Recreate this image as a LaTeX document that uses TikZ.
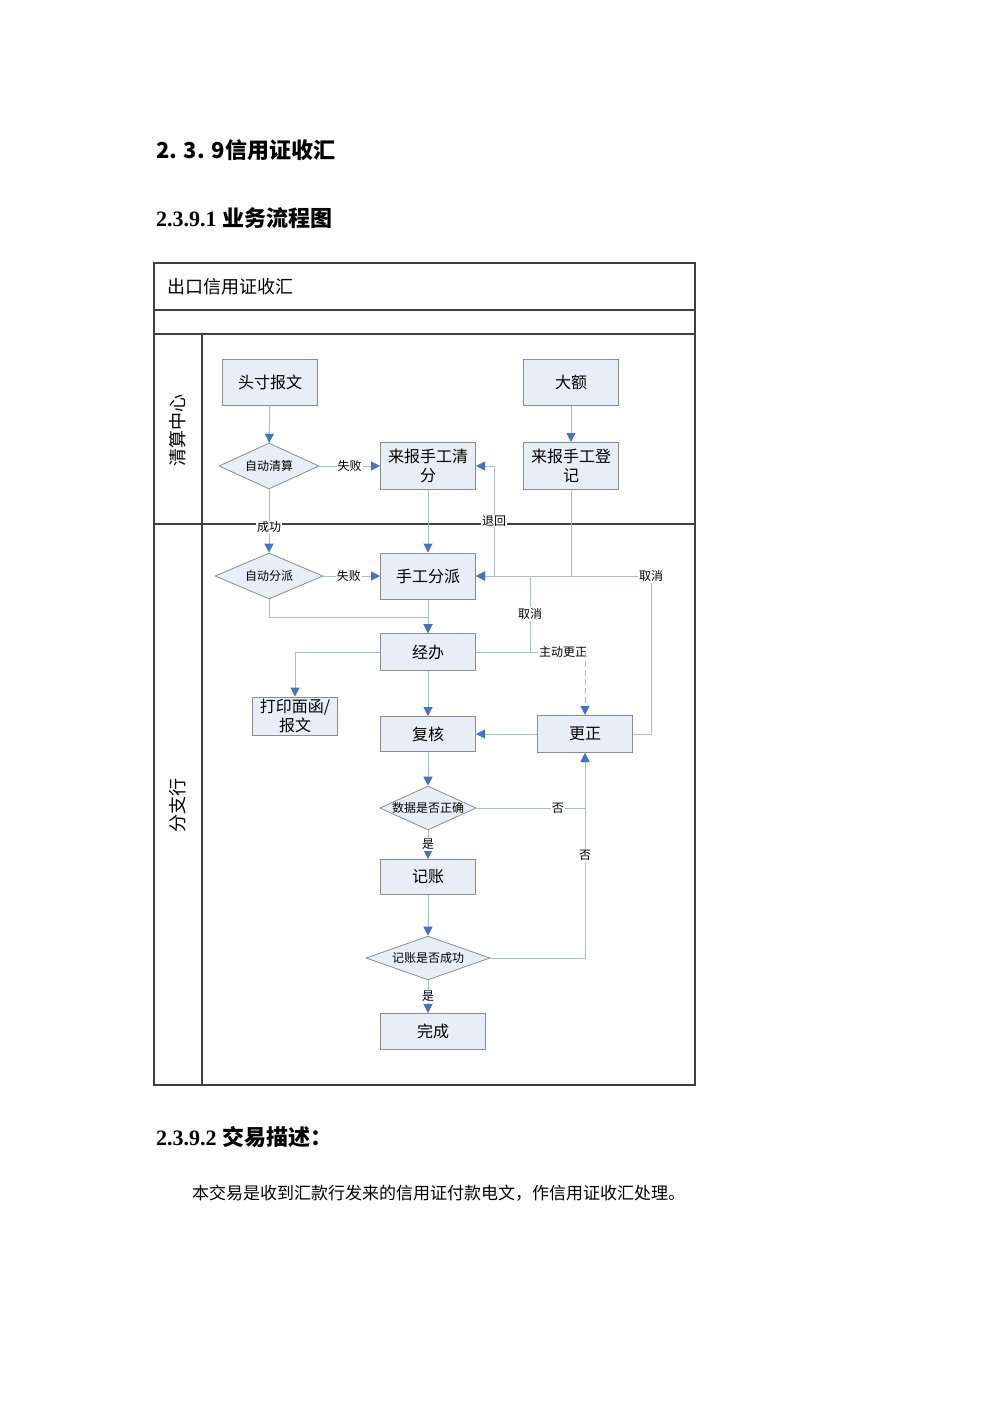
\documentclass[tikz,border=0pt]{standalone}
\usepackage{fontspec}
\setmainfont{Liberation Serif}
\newfontfamily\cjk{Noto Sans CJK SC}
\usetikzlibrary{shapes.geometric,arrows.meta}
\definecolor{boxfill}{HTML}{E8EEF8}
\definecolor{boxdraw}{HTML}{8C8C8C}
\definecolor{ln}{HTML}{A8BCDA}
\definecolor{tip}{HTML}{4472C4}
\begin{document}
\begin{tikzpicture}[x=0.5pt,y=-0.5pt,
 box/.style={draw=boxdraw,fill=boxfill,line width=0.5pt,rectangle,inner sep=1pt,align=center,font=\cjk\fontsize{8}{9.5}\selectfont},
 dia/.style={draw=boxdraw,fill=boxfill,line width=0.4pt,diamond,aspect=2.2,inner sep=0pt,font=\cjk\fontsize{6}{7}\selectfont},
 con/.style={draw=ln,line width=0.5pt},
 arr/.style={con,-{Triangle[length=4.5pt,width=4.5pt,color=tip]}},
 lab/.style={fill=white,inner sep=0.6pt,font=\cjk\fontsize{6}{7}\selectfont},
 lane/.style={draw=black!75,line width=0.8pt}]
\useasboundingbox (0,0) rectangle (1000,1415);
% headings
\node[anchor=west,font=\cjk\bfseries\fontsize{11}{12}\selectfont] (h1) at (149,150) {2. 3. 9信用证收汇};
\node[anchor=west,font=\fontsize{11}{12}\selectfont\bfseries] (h2) at (149,218) {2.3.9.1 {\cjk 业务流程图}};
\node[anchor=west,font=\fontsize{11}{12}\selectfont\bfseries] (h3) at (149,1137) {2.3.9.2 {\cjk 交易描述：}};
\node[anchor=west,font=\cjk\fontsize{8.5}{10}\selectfont] (p1) at (185,1193) {本交易是收到汇款行发来的信用证付款电文，作信用证收汇处理。};
% frame
\draw[lane] (154,263) rectangle (695,1085);
\draw[lane] (154,310) -- (695,310);
\draw[lane] (154,334) -- (695,334);
\draw[lane] (202,334) -- (202,1085);
\draw[lane] (154,524) -- (695,524);
\node[anchor=west,font=\cjk\fontsize{9}{10}\selectfont] (t) at (160,287) {出口信用证收汇};
\node[rotate=90,font=\cjk\fontsize{9}{10}\selectfont] (l1) at (178,430) {清算中心};
\node[rotate=90,font=\cjk\fontsize{9}{10}\selectfont] (l2) at (178,805) {分支行};
% nodes
\node[box,minimum width=47.5pt,minimum height=23pt] (tc) at (270,382) {头寸报文};
\node[box,minimum width=47.5pt,minimum height=23pt] (de) at (571,382) {大额};
\node[dia,minimum width=50pt,minimum height=23pt] (zq) at (269,466) {自动清算};
\node[box,minimum width=47.5pt,minimum height=23.5pt] (lq) at (428,466) {来报手工清\\分};
\node[box,minimum width=47.5pt,minimum height=23.5pt] (ld) at (571,466) {来报手工登\\记};
\node[dia,minimum width=54pt,minimum height=23pt] (zp) at (269,576) {自动分派};
\node[box,minimum width=47.5pt,minimum height=23pt] (sp) at (428,576) {手工分派};
\node[box,minimum width=47.5pt,minimum height=18.5pt] (jb) at (428,652) {经办};
\node[box,minimum width=42.5pt,minimum height=19pt] (dy) at (295,716) {打印面函/\\报文};
\node[box,minimum width=47.5pt,minimum height=17.5pt] (fh) at (428,734) {复核};
\node[box,minimum width=47.5pt,minimum height=18.5pt] (gz) at (585,734) {更正};
\node[dia,minimum width=48pt,minimum height=20pt] (sj) at (428,808) {数据是否正确};
\node[box,minimum width=47.5pt,minimum height=17.5pt] (jz) at (428,877) {记账};
\node[dia,minimum width=62pt,minimum height=19pt] (cg) at (428,958) {记账是否成功};
\node[box,minimum width=52.5pt,minimum height=18pt] (wc) at (433,1031) {完成};
% coordinates
\coordinate (a1) at (571,576);
\coordinate (a2) at (651,576);
\coordinate (a3) at (651,734);
\coordinate (b1) at (494,576);
\coordinate (b2) at (494,466);
\coordinate (c1) at (530,652);
\coordinate (c2) at (530,576);
\coordinate (c3) at (585,652);
\coordinate (d1) at (269,617);
\coordinate (d2) at (428,617);
\coordinate (e1) at (295,652);
\coordinate (f1) at (585,808);
\coordinate (g1) at (585,958);
\coordinate (w1) at (428,1013);
% connectors
\draw[arr] (tc) -- (zq);
\draw[arr] (de) -- (ld);
\draw[arr] (zq) -- node[lab]{失败} (lq);
\draw[arr] (zq) -- node[lab,pos=0.6]{成功} (zp);
\draw[arr] (lq) -- (sp);
\draw[arr] (ld.south) -- (a1) -- (sp.east);
\draw[arr] (b1) -- node[lab,pos=0.5]{退回} (b2) -- (lq.east);
\draw[con] (gz.east) -- (a3) -- (a2) node[lab]{取消} -- (a1);
\draw[arr] (jb.east) -- (c1) -- node[lab]{取消} (c2) -- (sp.east);
\draw[con] (c1) -- (c3) node[lab,pos=0.6]{主动更正};
\draw[arr,dash pattern=on 3pt off 1.5pt] (c3) -- (gz.north);
\draw[arr] (zp) -- node[lab,pos=0.45]{失败} (sp);
\draw[arr] (zp.south) -- (d1) -- (d2) -- (jb.north);
\draw[arr] (sp) -- (jb);
\draw[arr] (jb.west) -- (e1) -- (dy.north);
\draw[arr] (jb) -- (fh);
\draw[arr] (gz) -- (fh);
\draw[arr] (fh) -- (sj);
\draw[arr] (sj.east) -- node[lab,pos=0.75]{否} (f1) -- (gz.south);
\draw[arr] (sj) -- node[lab]{是} (jz);
\draw[arr] (jz) -- (cg);
\draw[arr] (cg.east) -- (g1) -- node[lab]{否} (gz.south);
\draw[arr] (cg) -- node[lab]{是} (w1);
\end{tikzpicture}
\end{document}
